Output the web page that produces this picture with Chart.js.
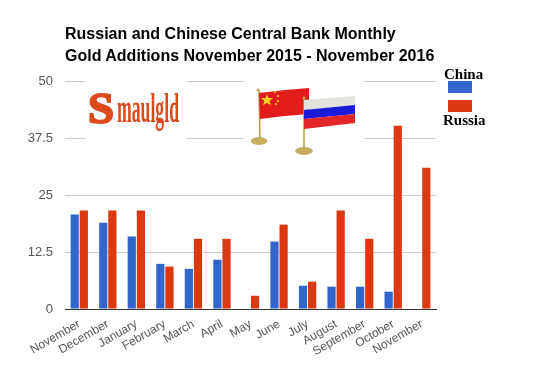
<!DOCTYPE html>
<html>
<head>
<meta charset="utf-8">
<script src="https://cdn.jsdelivr.net/npm/chart.js@4"></script>
<style>
  html, body { margin: 0; padding: 0; background: #fff; }
  #wrap { position: relative; width: 540px; height: 383px; overflow: hidden; }
  #wrap canvas { position: absolute; left: 0; top: 0; }
  #title { position: absolute; left: 65px; top: 23px; font: bold 16px/22px "Liberation Sans", Arial, sans-serif; color: #000; white-space: nowrap; }
  .leg { position: absolute; font: bold 15px/16px "Liberation Serif", serif; color: #000; }
  .swatch { position: absolute; left: 448px; width: 24px; height: 12px; }
  #art { position: absolute; left: 0; top: 0; }
</style>
</head>
<body>
<div id="wrap">
  <canvas id="chart" width="540" height="383"></canvas>
  <svg id="art" width="540" height="383">
    <!-- white boxes of the pasted images hide the gridlines -->
    <rect x="85" y="76" width="102" height="70" fill="#fff"/>
    <rect x="244" y="76" width="120" height="70" fill="#fff"/>
    <!-- logo -->
    <text x="88" y="123" font-family="Liberation Serif" font-weight="bold" font-size="45" fill="#dc4a1c" stroke="#dc4a1c" stroke-width="2" textLength="26" lengthAdjust="spacingAndGlyphs">S</text>
    <text x="117" y="122" font-family="Liberation Serif" font-weight="bold" font-size="42" fill="#dc4a1c" textLength="62" lengthAdjust="spacingAndGlyphs">maulgld</text>
    <!-- china flag -->
    <line x1="259" y1="90" x2="260" y2="140" stroke="#b8973f" stroke-width="1.5"/>
    <circle cx="258" cy="90" r="1.5" fill="#c9a94f"/>
    <ellipse cx="259" cy="141" rx="8" ry="3.5" fill="#c9b060" stroke="#a88f40" stroke-width="0.5"/>
    <polygon points="259,93 285,90 309,88 309,114 285,116 260,119" fill="#e21c1c"/>
    <polygon points="267,94 268.5,98 273,98 269.5,101 271,105 267,103 263,105 264.5,101 261,98 265.5,98" fill="#f6d21f"/>
    <circle cx="275" cy="92" r="1" fill="#f6d21f"/><circle cx="278" cy="96" r="1" fill="#f6d21f"/>
    <circle cx="278" cy="101" r="1" fill="#f6d21f"/><circle cx="276" cy="104" r="1" fill="#f6d21f"/>
    <!-- russia flag -->
    <line x1="304" y1="98" x2="304" y2="150" stroke="#b8973f" stroke-width="1.5"/>
    <circle cx="304" cy="98" r="1.5" fill="#c9a94f"/>
    <ellipse cx="304" cy="151" rx="8.5" ry="3.5" fill="#c9b060" stroke="#a88f40" stroke-width="0.5"/>
    <polygon points="304,100 355,96 355,105 304,110" fill="#e3e3de"/>
    <polygon points="304,110 355,105 355,114 304,119" fill="#1a1ad8"/>
    <polygon points="304,119 355,114 355,123 304,129" fill="#e3262a"/>
  </svg>
  <div id="title"></div>
  <div class="leg" id="leg0" style="left:444px; top:66px;"></div>
  <div class="swatch" id="sw0" style="top:81px;"></div>
  <div class="swatch" id="sw1" style="top:100px;"></div>
  <div class="leg" id="leg1" style="left:443px; top:112px;"></div>
</div>
<script>
const titleLines = ["Russian and Chinese Central Bank Monthly", "Gold Additions November 2015 - November 2016"];
const months = ["November", "December", "January", "February", "March", "April", "May", "June", "July", "August", "September", "October", "November"];
const seriesNames = ["China", "Russia"];
// tonnes added each month
const china = [20.7, 18.9, 15.9, 9.9, 8.8, 10.8, null, 14.8, 5.1, 4.9, 4.9, 3.8, null];
const russia = [21.6, 21.6, 21.6, 9.3, 15.4, 15.4, 2.9, 18.5, 6, 21.6, 15.4, 40.2, 31];
const yTicks = [0, 12.5, 25, 37.5, 50];
const seriesColors = ["#3366cc", "#dc3912"];

document.getElementById("title").innerHTML = titleLines.join("<br>");
seriesNames.forEach((name, i) => {
  document.getElementById("leg" + i).textContent = name;
  document.getElementById("sw" + i).style.background = seriesColors[i];
});

new Chart(document.getElementById("chart"), {
  type: "bar",
  data: {
    labels: months,
    datasets: [
      { label: seriesNames[0], data: china, backgroundColor: seriesColors[0] },
      { label: seriesNames[1], data: russia, backgroundColor: seriesColors[1] },
    ],
  },
  options: {
    responsive: false,
    animation: false,
    layout: { padding: { top: 81, right: 104, left: 0, bottom: 0 } },
    datasets: { bar: { categoryPercentage: 0.64, barPercentage: 0.9 } },
    plugins: { legend: { display: false }, tooltip: { enabled: false } },
    scales: {
      x: {
        // fixed height so the baseline stays where the reference has it
        afterFit: (s) => { s.height = 74; },
        grid: { display: false },
        border: { color: "#333", width: 1 },
        ticks: {
          color: "#555",
          font: { family: "Liberation Sans", size: 12 },
          minRotation: 30,
          maxRotation: 30,
          autoSkip: false,
          padding: 0,
        },
      },
      y: {
        min: 0,
        max: 50,
        afterFit: (s) => { s.width = 65; },
        afterBuildTicks: (s) => { s.ticks = yTicks.map((v) => ({ value: v })); },
        grid: { color: "#ccc", drawTicks: false },
        border: { display: false },
        ticks: {
          color: "#555",
          font: { family: "Liberation Sans", size: 13 },
          padding: 12,
          callback: (v) => v,
        },
      },
    },
  },
});
</script>
</body>
</html>
